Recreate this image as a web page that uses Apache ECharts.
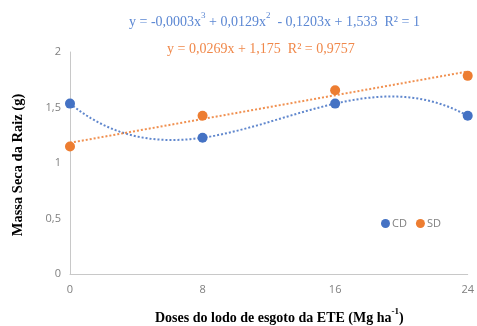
<!DOCTYPE html>
<html><head><meta charset="utf-8">
<script src="https://cdn.jsdelivr.net/npm/echarts@6/dist/echarts.min.js"></script>
<style>html,body{margin:0;padding:0;background:#fff}#c{width:477px;height:326px}</style>
</head><body><div id="c"></div>
<script>
const doses = [0, 8, 16, 24];
const cdValues = [1.535, 1.228, 1.535, 1.425];
const sdValues = [1.148, 1.425, 1.655, 1.785];
const yTicks = ['0', '0,5', '1', '1,5', '2'];
const eqCD = '{n|y = -0,0003x}{sup|3}{n| + 0,0129x}{sup|2}{n|  - 0,1203x + 1,533  R² = 1}';
const eqSD = 'y = 0,0269x + 1,175  R² = 0,9757';

// cubic trendline (exact fit through 4 points, R² = 1) via Lagrange form
function cubicAt(x) {
  let s = 0;
  for (let i = 0; i < doses.length; i++) {
    let t = cdValues[i];
    for (let j = 0; j < doses.length; j++) if (j !== i) t *= (x - doses[j]) / (doses[i] - doses[j]);
    s += t;
  }
  return s;
}
// linear least squares for SD
const n = doses.length;
const mx = doses.reduce((a, b) => a + b, 0) / n;
const my = sdValues.reduce((a, b) => a + b, 0) / n;
let sxy = 0, sxx = 0;
for (let i = 0; i < n; i++) { sxy += (doses[i] - mx) * (sdValues[i] - my); sxx += (doses[i] - mx) ** 2; }
const slope = sxy / sxx, icpt = my - slope * mx;
const cdTrend = [], sdTrend = [];
for (let k = 0; k <= 96; k++) { const x = k * 0.25; cdTrend.push([x, cubicAt(x)]); }
sdTrend.push([0, icpt], [24, icpt + slope * 24]);

const chart = echarts.init(document.getElementById('c'));
const blue = '#4472C4', orange = '#ED7D31';
const eqBlue = '#5B87D3';
chart.setOption({
  animation: false,
  grid: { left: 70, right: 7, top: 52, bottom: 52 },
  xAxis: {
    type: 'value', min: 0, max: 24, interval: 8,
    axisLine: { show: true, lineStyle: { color: '#C8C8C8', width: 1 } },
    axisTick: { show: false }, splitLine: { show: false },
    axisLabel: { color: '#7F7F7F', fontFamily: 'Open Sans', fontSize: 11, margin: 10 }
  },
  yAxis: {
    type: 'value', min: 0, max: 2, interval: 0.5,
    axisLine: { show: true, lineStyle: { color: '#C8C8C8', width: 1 } },
    axisTick: { show: false }, splitLine: { show: false },
    axisLabel: { color: '#7F7F7F', fontFamily: 'Open Sans', fontSize: 11, margin: 9,
      formatter: v => yTicks[Math.round(v / 0.5)] }
  },
  legend: {
    left: 376, top: 213, itemGap: 9, itemWidth: 9, itemHeight: 9,
    textStyle: { color: '#7F7F7F', fontFamily: 'Open Sans', fontSize: 11, padding: [0, 0, 0, -3] },
    data: [{ name: 'CD', icon: 'circle' }, { name: 'SD', icon: 'circle' }]
  },
  series: [
    { name: 'trendCD', type: 'line', data: cdTrend, showSymbol: false, silent: true, z: 1,
      lineStyle: { color: blue, width: 2, type: [2, 2], opacity: 0.85 } },
    { name: 'trendSD', type: 'line', data: sdTrend, showSymbol: false, silent: true, z: 1,
      lineStyle: { color: orange, width: 2, type: [2, 2], opacity: 0.85 } },
    { name: 'CD', type: 'scatter', symbolSize: 10, itemStyle: { color: blue, opacity: 1 }, z: 3,
      data: doses.map((d, i) => [d, cdValues[i]]) },
    { name: 'SD', type: 'scatter', symbolSize: 10, itemStyle: { color: orange, opacity: 1 }, z: 3,
      data: doses.map((d, i) => [d, sdValues[i]]) }
  ],
  graphic: [
    { type: 'text', left: 129, top: 11, style: { text: eqCD,
        rich: {
          n: { fontSize: 14, fontFamily: 'Liberation Serif', fill: eqBlue, lineHeight: 18, verticalAlign: 'bottom' },
          sup: { fontSize: 9, fontFamily: 'Liberation Serif', fill: eqBlue, lineHeight: 11, verticalAlign: 'top' } } } },
    { type: 'text', left: 167, top: 42, style: { text: eqSD, fill: '#F0884A', font: '14px "Liberation Serif"' } },
    { type: 'text', x: 18, y: 165, rotation: Math.PI / 2,
      style: { text: 'Massa Seca da Raiz (g)', fill: '#000', font: 'bold 14.5px "Liberation Serif"', align: 'center', verticalAlign: 'middle' } },
    { type: 'text', left: 155, top: 307,
      style: { text: '{n|Doses do lodo de esgoto da ETE (Mg ha}{sup|-1}{n|)}',
        rich: { sup: { fontSize: 9, fontWeight: 'bold', fontFamily: 'Liberation Serif', fill: '#000', lineHeight: 10, verticalAlign: 'top' },
                n: { fontSize: 14, fontWeight: 'bold', fontFamily: 'Liberation Serif', fill: '#000', lineHeight: 18, verticalAlign: 'bottom' } } } }
  ]
});
</script></body></html>
